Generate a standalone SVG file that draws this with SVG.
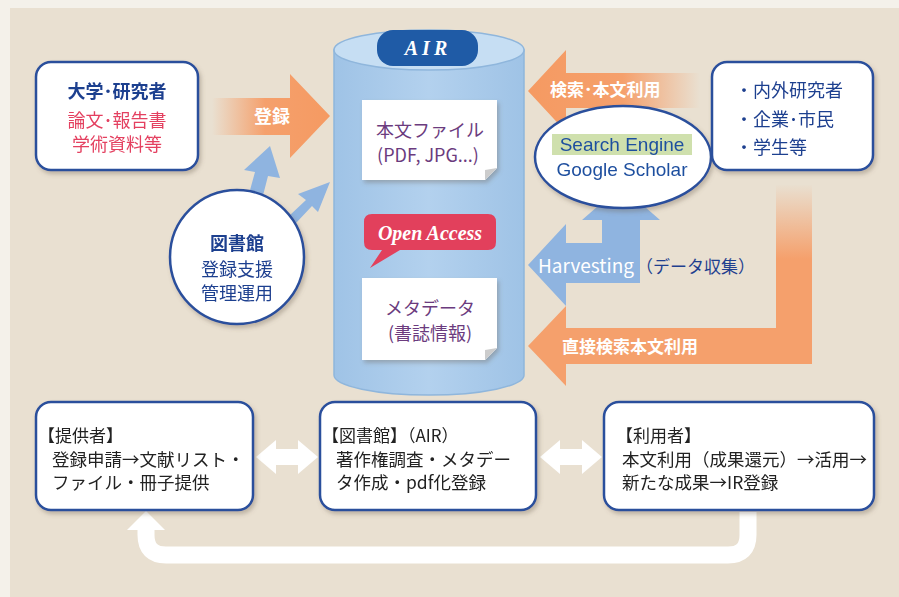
<svg xmlns="http://www.w3.org/2000/svg" width="899" height="597" viewBox="0 0 899 597">
<defs>
<style>
.jp{font-family:"Noto Sans CJK JP","Noto Sans",sans-serif}
.box{fill:#fff;stroke:#2b4f9c;stroke-width:2.5}
.navy{fill:#1f3f8f}
.wt{fill:#fff}
.dark{fill:#222}
.purp{fill:#6b3b7e}
</style>
<linearGradient id="orR" x1="0" y1="0" x2="1" y2="0"><stop offset="0" stop-color="#f5a06c" stop-opacity="0"/><stop offset="0.45" stop-color="#f5a06c"/><stop offset="1" stop-color="#f59a62"/></linearGradient>
<linearGradient id="orL" x1="1" y1="0" x2="0" y2="0"><stop offset="0" stop-color="#f5a06c" stop-opacity="0"/><stop offset="0.45" stop-color="#f5a06c"/><stop offset="1" stop-color="#f59a62"/></linearGradient>
<linearGradient id="orV" x1="0" y1="0" x2="0" y2="1"><stop offset="0" stop-color="#e9e0d1"/><stop offset="1" stop-color="#e9e0d1" stop-opacity="0"/></linearGradient>
<linearGradient id="cyl" x1="0" y1="0" x2="1" y2="0"><stop offset="0" stop-color="#9fc3e6"/><stop offset="0.5" stop-color="#b3d1ee"/><stop offset="1" stop-color="#9fc3e6"/></linearGradient>
<filter id="sh" x="-10%" y="-10%" width="130%" height="130%"><feDropShadow dx="2" dy="3" stdDeviation="2" flood-color="#6a6050" flood-opacity="0.35"/></filter>
</defs>
<rect width="899" height="597" fill="#f4f1ea"/>
<rect x="10" y="8" width="889" height="589" fill="#e9e0d1"/>

<g id="connectors">
  <!-- 登録 orange arrow -->
  <path d="M212,98 H290 V74 L330,116 L290,158 V135 H212 Z" fill="url(#orR)"/>
  <text x="272" y="123" class="jp wt" font-size="18" text-anchor="middle" font-weight="bold">登録</text>
  <!-- blue arrows from library -->
  <path d="M244,212 L255,172 L244,170 L270,146 L280,178 L268,176 L258,215 Z" fill="#8fb4e0"/>
  <path d="M272,232 L306,200 L298,194 L330,182 L318,212 L312,206 L280,240 Z" fill="#8fb4e0"/>
  <!-- 検索・本文利用 -->
  <path d="M700,73 H566 V50 L528,91 L566,132 V108 H700 Z" fill="url(#orL)"/>
  <text x="550" y="96" class="jp wt" font-size="17" font-weight="bold">検索･本文利用</text>
  <!-- orange L arrow 直接検索本文利用 -->
  <path d="M776,185 H812 V364 H566 V386 L528,346 L566,306 V328 H776 Z" fill="#f5a06c"/>
  <rect x="775" y="184" width="38" height="75" fill="url(#orV)"/>
  <text x="562" y="353" class="jp wt" font-size="17" font-weight="bold">直接検索本文利用</text>
  <!-- Harvesting arrows -->
  <path d="M602,283 V220 H582 L621,186 L660,220 H640 V283 Z" fill="#8fb4e0"/>
  <path d="M640,243 V283 H566 V306 L528,265 L566,224 V243 Z" fill="#8fb4e0"/>
  <text x="538" y="273" class="jp" font-size="19" fill="#fff">Harvesting</text>
  <text x="636" y="273" class="jp navy" font-size="17">（データ収集）</text>
  <!-- bottom double arrows -->
  <path d="M256,457 L276,440 V449 H298 V440 L318,457 L298,474 V465 H276 V474 Z" fill="#fff"/>
  <path d="M540,457 L560,440 V449 H582 V440 L602,457 L582,474 V465 H560 V474 Z" fill="#fff"/>
  <!-- bottom return arrow -->
  <path d="M748,512 V535 Q748,555 728,555 H166 Q146,555 146,535 V528" fill="none" stroke="#fff" stroke-width="17"/>
  <path d="M127,530 L146,511 L165,530 Z" fill="#fff"/>
</g>

<g id="univ" filter="url(#sh)">
  <rect x="36" y="62" width="162" height="108" rx="15" class="box"/>
  <text x="117" y="98" class="jp navy" font-size="18" font-weight="bold" text-anchor="middle">大学･研究者</text>
  <text x="117" y="127" class="jp" fill="#e44060" font-size="18" text-anchor="middle">論文･報告書</text>
  <text x="117" y="151" class="jp" fill="#e44060" font-size="18" text-anchor="middle">学術資料等</text>
</g>

<g id="air">
  <path d="M334,50 V375 A95,20 0 0 0 524,375 V50 Z" fill="url(#cyl)" stroke="#8fb6dc" stroke-width="1.5"/>
  <ellipse cx="429" cy="50" rx="95" ry="20" fill="#c6def3" stroke="#8fb6dc" stroke-width="1.5"/>
  <rect x="377" y="30" width="101" height="36" rx="16" fill="#1f5ba6"/>
  <text x="428" y="55" font-family="Liberation Serif,serif" font-style="italic" font-weight="bold" font-size="20" fill="#fff" text-anchor="middle" letter-spacing="4">AIR</text>
  <g filter="url(#sh)">
    <path d="M362,100 H497 V168 L485,180 H362 Z" fill="#fff"/>
    <path d="M497,168 L485,180 L485,170 Z" fill="#ccc"/>
  </g>
  <text x="430" y="137" class="jp purp" font-size="18" text-anchor="middle">本文ファイル</text>
  <text x="428" y="162" class="jp purp" font-size="18" text-anchor="middle">(PDF, JPG...)</text>
  <path d="M372,214 H488 Q496,214 496,222 V242 Q496,250 488,250 H400 L370,268 L382,250 H372 Q364,250 364,242 V222 Q364,214 372,214 Z" fill="#e2405c"/>
  <text x="430" y="240" font-family="Liberation Serif,serif" font-style="italic" font-weight="bold" font-size="20" fill="#fff" text-anchor="middle">Open Access</text>
  <g filter="url(#sh)">
    <path d="M362,278 H497 V348 L485,360 H362 Z" fill="#fff"/>
    <path d="M497,348 L485,360 L485,350 Z" fill="#ccc"/>
  </g>
  <text x="430" y="315" class="jp purp" font-size="18" text-anchor="middle">メタデータ</text>
  <text x="430" y="340" class="jp purp" font-size="18" text-anchor="middle">(書誌情報)</text>
</g>

<g id="library" filter="url(#sh)">
  <circle cx="237" cy="257" r="67" fill="#fff" stroke="#2b4f9c" stroke-width="2.5"/>
  <text x="237" y="250" class="jp navy" font-size="18" font-weight="bold" text-anchor="middle">図書館</text>
  <text x="237" y="276" class="jp navy" font-size="18" text-anchor="middle">登録支援</text>
  <text x="237" y="300" class="jp navy" font-size="18" text-anchor="middle">管理運用</text>
</g>

<g id="search" filter="url(#sh)">
  <ellipse cx="623" cy="157" rx="88" ry="51" fill="#fff" stroke="#2b4f9c" stroke-width="2.5"/>
  <rect x="552" y="134" width="140" height="21" fill="#cfe0ad"/>
  <text x="622" y="151" font-family="Liberation Sans,Arial,sans-serif" fill="#1f4f9f" font-size="19" text-anchor="middle">Search Engine</text>
  <text x="622" y="176" font-family="Liberation Sans,Arial,sans-serif" fill="#1f4f9f" font-size="19" text-anchor="middle">Google Scholar</text>
</g>

<g id="users" filter="url(#sh)">
  <rect x="712" y="62" width="161" height="108" rx="15" class="box"/>
  <text x="735" y="97" class="jp navy" font-size="18">・内外研究者</text>
  <text x="735" y="126" class="jp navy" font-size="18">・企業･市民</text>
  <text x="735" y="154" class="jp navy" font-size="18">・学生等</text>
</g>

<g id="provider" filter="url(#sh)">
  <rect x="36" y="402" width="217" height="108" rx="15" class="box"/>
  <text x="38" y="442" class="jp dark" font-size="17">【提供者】</text>
  <text x="52" y="466" class="jp dark" font-size="17.5">登録申請→文献リスト・</text>
  <text x="52" y="489" class="jp dark" font-size="17.5">ファイル・冊子提供</text>
</g>

<g id="libbox" filter="url(#sh)">
  <rect x="320" y="402" width="216" height="108" rx="15" class="box"/>
  <text x="322" y="442" class="jp dark" font-size="17">【図書館】（AIR）</text>
  <text x="336" y="466" class="jp dark" font-size="17.5">著作権調査・メタデー</text>
  <text x="336" y="489" class="jp dark" font-size="17.5">タ作成・pdf化登録</text>
</g>

<g id="userbox" filter="url(#sh)">
  <rect x="604" y="402" width="270" height="108" rx="15" class="box"/>
  <text x="616" y="442" class="jp dark" font-size="17">【利用者】</text>
  <text x="622" y="466" class="jp dark" font-size="17.5">本文利用（成果還元）→活用→</text>
  <text x="622" y="489" class="jp dark" font-size="17.5">新たな成果→IR登録</text>
</g>
</svg>
